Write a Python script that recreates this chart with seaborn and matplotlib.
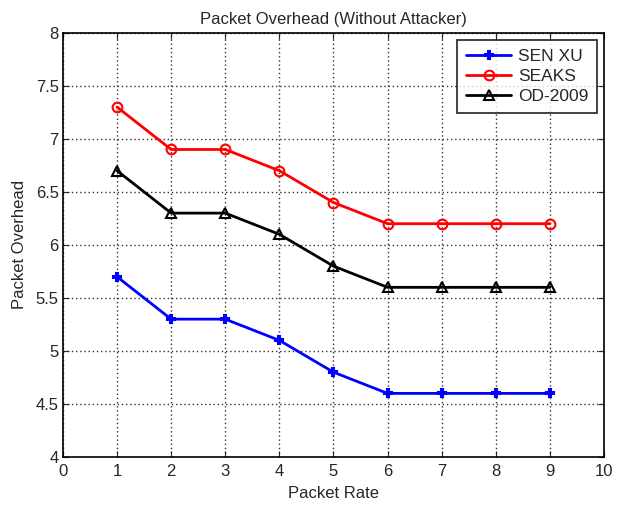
import numpy as np
import pandas as pd
import matplotlib
matplotlib.use("Agg")
import matplotlib.pyplot as plt
import seaborn as sns

packet_rate = [1, 2, 3, 4, 5, 6, 7, 8, 9]
sen_xu = [5.7, 5.3, 5.3, 5.1, 4.8, 4.6, 4.6, 4.6, 4.6]
seaks = [7.3, 6.9, 6.9, 6.7, 6.4, 6.2, 6.2, 6.2, 6.2]
od_2009 = [6.7, 6.3, 6.3, 6.1, 5.8, 5.6, 5.6, 5.6, 5.6]

df = pd.DataFrame({"Packet Rate": packet_rate * 3,
                   "Packet Overhead": sen_xu + seaks + od_2009,
                   "series": ["SEN XU"] * 9 + ["SEAKS"] * 9 + ["OD-2009"] * 9})

sns.set_style("white")
plt.rcParams["font.family"] = ["Liberation Sans", "DejaVu Sans"]
plt.rcParams["font.size"] = 11

fig = plt.figure(figsize=(6.17, 5.05), dpi=100)
ax = fig.add_axes([0.102, 0.095, 0.877, 0.840])

colors = {"SEN XU": "#0000ff", "SEAKS": "#ff0000", "OD-2009": "#000000"}
markers = {"SEN XU": "P", "SEAKS": "o", "OD-2009": "^"}
for name in ["SEN XU", "SEAKS", "OD-2009"]:
    sub = df[df["series"] == name]
    mfc = colors[name] if name == "SEN XU" else "none"
    ms = 6 if name == "SEN XU" else 7
    sns.lineplot(data=sub, x="Packet Rate", y="Packet Overhead", ax=ax,
                 color=colors[name], marker=markers[name], markersize=ms,
                 markerfacecolor=mfc, markeredgecolor=colors[name],
                 markeredgewidth=1.5, linewidth=2, label=name)

ax.set_xlim(0, 10)
ax.set_ylim(4, 8)
ax.set_xticks(np.arange(0, 11, 1))
ax.set_yticks(np.arange(4, 8.01, 0.5))
ax.set_yticklabels(["4", "4.5", "5", "5.5", "6", "6.5", "7", "7.5", "8"])
ax.grid(True, linestyle=(0, (1, 2)), color="#333333", linewidth=1)
ax.tick_params(direction="in", length=4, labelsize=12, top=True, right=True,
               bottom=True, left=True, pad=3)
ax.tick_params(axis="x", pad=5)
for s in ax.spines.values():
    s.set_color("black")
    s.set_linewidth(1.2)
ax.set_xlabel("Packet Rate", fontsize=12, labelpad=5)
ax.set_ylabel("Packet Overhead", fontsize=12, labelpad=6)
ax.set_title("Packet Overhead (Without Attacker)", fontsize=12)
leg = ax.legend(loc="upper right", frameon=True, fancybox=False, fontsize=12.5,
                edgecolor="black", borderaxespad=0.4, handlelength=2.6,
                borderpad=0.5, labelspacing=0.3, handletextpad=0.4)
leg.get_frame().set_linewidth(1.3)

fig.savefig("out.png", dpi=100)
